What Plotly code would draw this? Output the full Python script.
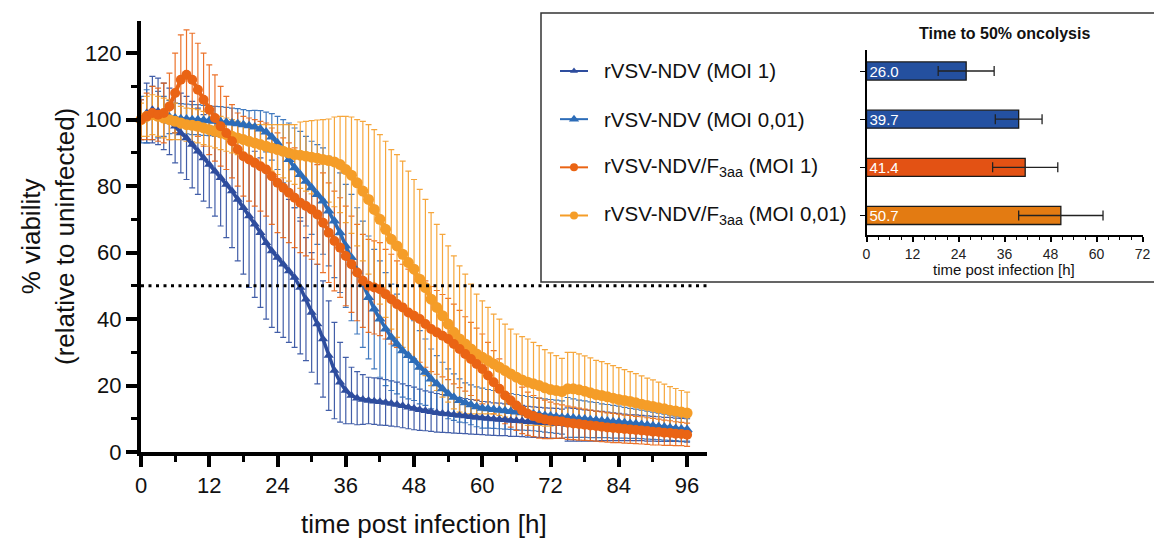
import plotly.graph_objects as go

# ---------------- data ----------------
HOURS = list(range(0, 97))

SERIES_NAMES = ["rVSV-NDV (MOI 1)", "rVSV-NDV (MOI 0,01)",
                "rVSV-NDV/F<sub>3aa</sub> (MOI 1)", "rVSV-NDV/F<sub>3aa</sub> (MOI 0,01)"]

A_MEAN = [100, 102, 103, 102.5, 101, 99.5, 98, 96, 94.5, 92.5,
          90.5, 88.5, 86.5, 84.5, 82.5, 80.5, 78.5, 76, 73.5, 71,
          68.5, 66, 63, 60.5, 58.5, 56.5, 54.5, 52.5, 49.5, 46,
          42, 38.5, 34, 29, 24.5, 21, 18.5, 17, 16.2, 15.8,
          15.5, 15.3, 15.1, 14.9, 14.6, 14.3, 13.9, 13.5, 13.1, 12.7,
          12.4, 12.1, 11.8, 11.6, 11.4, 11.2, 11.0, 10.8, 10.6, 10.4,
          10.2, 10.1, 9.9, 9.8, 9.7, 9.5, 9.4, 9.3, 9.1, 9.0,
          8.9, 8.8, 8.7, 8.6, 8.5, 8.3, 8.2, 8.1, 8.0, 7.9,
          7.8, 7.8, 7.7, 7.6, 7.5, 7.4, 7.3, 7.3, 7.2, 7.1,
          7.0, 6.9, 6.8, 6.8, 6.7, 6.6, 6.5]
A_SD = [6, 9, 10, 10, 10, 10, 11, 12, 12.5, 13,
        13, 13, 13, 13.5, 14.5, 16, 17, 18.5, 20, 21.5,
        22, 22.5, 23, 23, 22.5, 22, 21.5, 21, 20, 18.5,
        18, 18, 17.5, 16.5, 14.5, 12, 10, 8.5, 8, 7.5,
        7, 7, 7, 6.9, 6.8, 6.7, 6.6, 6.5, 6.4, 6.2,
        6, 5.9, 5.8, 5.7, 5.6, 5.5, 5.4, 5.3, 5.2, 5.1,
        5, 5, 4.9, 4.9, 4.8, 4.8, 4.7, 4.7, 4.6, 4.6,
        4.5, 4.5, 4.5, 4.5, 4.4, 5, 4.9, 4.8, 4.7, 4.6,
        4.5, 4.4, 4.3, 4.2, 4.1, 4, 3.9, 3.9, 3.8, 3.8,
        3.7, 3.7, 3.6, 3.6, 3.5, 3.5, 3.5]

B_MEAN = [100, 101, 102, 101.5, 101, 100.8, 100.5, 100.3, 100.2, 100,
          100, 99.8, 99.7, 99.5, 99.4, 99.2, 99, 98.8, 98.5, 98.2,
          97.8, 97.2, 96.3, 94.8, 93, 90.5, 88, 85.5, 83.5, 81.5,
          79.5, 77.5, 75.5, 72.5, 69.5, 66, 62, 58.5, 54.5, 50.5,
          46.5, 43, 40, 37, 34.5, 32.5, 30.5, 29, 27.5, 25.5,
          24, 22, 20.5, 19, 17.5, 16.5, 15.5, 14.8, 14.2, 13.6,
          13.2, 13, 12.8, 12.6, 12.4, 12.2, 12, 11.8, 11.6, 11.4,
          11.2, 11, 10.8, 10.6, 10.4, 10.4, 10.2, 10, 9.9, 9.7,
          9.6, 9.4, 9.3, 9.1, 9, 8.8, 8.6, 8.5, 8.3, 8.1,
          7.9, 7.7, 7.5, 7.3, 7.1, 6.9, 6.8]
B_SD = [7, 8, 8, 7, 6, 5, 4.5, 4.5, 4.5, 4.5,
        4.5, 4.5, 4.5, 4.5, 4.5, 4.5, 4.5, 4.5, 4.5, 4.5,
        5, 5.5, 6, 7, 8, 9.5, 11, 12, 13, 13.5,
        14, 15, 16, 16.5, 17, 18, 18.5, 19, 19, 19,
        18.5, 18, 17.5, 17, 16, 15, 14, 13, 12, 11,
        10, 9, 8.5, 8, 7.5, 7, 6.5, 6, 6, 6,
        6, 5.8, 5.7, 5.6, 5.5, 5.4, 5.3, 5.2, 5.1, 5,
        5, 5, 5, 5, 5, 6, 5.8, 5.6, 5.5, 5.4,
        5.3, 5.1, 5, 4.9, 4.8, 4.6, 4.5, 4.4, 4.3, 4.2,
        4.1, 4, 3.9, 3.8, 3.7, 3.6, 3.5]

C_MEAN = [100, 101, 102, 101.5, 102, 104, 108, 112, 113.5, 112,
          109, 106, 103, 100.5, 98, 96, 93.5, 91, 89, 88,
          87, 86, 85, 83, 81, 79.5, 78, 76.5, 75, 74,
          73, 71.5, 69, 66, 63.5, 61.5, 59, 56.5, 54, 51.5,
          50, 49.5, 49, 47.5, 46, 44.5, 43.5, 42, 41, 40,
          38.5, 37, 36, 35, 34, 32.5, 31, 29.5, 28, 26.5,
          25, 23, 21, 19, 17, 15.5, 14, 12.5, 11.5, 10.8,
          10.2, 9.8, 9.5, 9.3, 9.2, 8.8, 8.6, 8.4, 8.2, 8.0,
          7.8, 7.6, 7.4, 7.2, 7.1, 6.9, 6.8, 6.6, 6.5, 6.3,
          6.1, 6.0, 5.8, 5.7, 5.5, 5.4, 5.2]
C_SD = [6, 7, 8, 8, 9, 10, 12, 13.5, 13.5, 14,
        14, 14, 13.5, 13, 12, 11, 11, 11, 12, 12.5,
        13, 13.5, 14, 14.5, 15, 15, 15, 15, 15, 15,
        15, 15, 15, 15, 15, 15, 15, 14.5, 14.5, 14,
        14, 14, 14, 13.5, 13.5, 13, 13, 13, 13, 13,
        13, 12.8, 12.6, 12.4, 12.2, 12, 11.6, 11.2, 11, 10.8,
        10.5, 10, 9.5, 9, 8.5, 8, 7.5, 7, 6.5, 6.2,
        6, 5.8, 5.5, 5.2, 5, 5, 4.9, 4.8, 4.7, 4.6,
        4.5, 4.5, 4.4, 4.4, 4.3, 4.2, 4.2, 4.1, 4.1, 4,
        4, 3.9, 3.8, 3.7, 3.6, 3.5, 3.5]

D_MEAN = [100, 101, 101.5, 101, 100.5, 100, 99.5, 99, 98.5, 98.3,
          98, 97.5, 97, 96.5, 96, 95.5, 95, 94.5, 94, 93.5,
          93, 92.5, 92, 91.5, 91, 90.5, 90, 89.5, 89.3, 89,
          88.7, 88.4, 88, 87.7, 87.3, 86.5, 85, 83.3, 81, 78.5,
          76, 73, 70, 67, 64, 62, 59.5, 57, 55, 52,
          49.5, 46, 43.5, 41, 38.5, 36, 34, 32.5, 31, 29.5,
          28.5, 27.5, 26.5, 25.5, 24.5, 23.5, 22.5, 21.7, 21, 20.5,
          20, 19.3, 18.8, 18.5, 18.2, 19, 19, 18.7, 18.3, 17.8,
          17.3, 17, 16.6, 16.2, 15.8, 15.5, 15.2, 14.8, 14.4, 14,
          13.7, 13.3, 13, 12.6, 12.3, 12, 11.7]
D_SD = [5, 6, 6, 6, 6, 6, 5.5, 5, 5, 5,
        5, 5, 5, 5, 5, 5, 5, 5, 5, 5,
        5.5, 6, 6.5, 7, 7.5, 8, 8.5, 9, 10, 10.5,
        11, 11.5, 12, 12.5, 13.5, 14.5, 16, 17.5, 19, 21,
        22.5, 24, 25.5, 26.5, 27, 27.5, 28, 27.5, 27, 27,
        26.5, 26, 25, 24.5, 23.5, 23, 22, 21, 19.5, 18,
        17, 16, 15, 14.5, 14, 13.5, 13, 13, 13, 12.5,
        12, 11.5, 11, 10.5, 10, 11, 11, 10.8, 10.6, 10.5,
        10.3, 10.2, 10, 9.8, 9.6, 9.3, 9, 8.8, 8.5, 8.2,
        8, 7.7, 7.4, 7.1, 6.8, 6.5, 6.3]

# inset: time to 50% oncolysis
BAR_VALUES = [26.0, 39.7, 41.4, 50.7]
BAR_SD = [7.3, 6.1, 8.5, 11.0]

THRESHOLD = 50
X_TICKS = [0, 12, 24, 36, 48, 60, 72, 84, 96]
Y_TICKS = [0, 20, 40, 60, 80, 100, 120]
INSET_TICKS = [0, 12, 24, 36, 48, 60, 72]

for arr in (A_MEAN, A_SD, B_MEAN, B_SD, C_MEAN, C_SD, D_MEAN, D_SD):
    assert len(arr) == len(HOURS), len(arr)

# ---------------- styles ----------------
OFF = 8                      # page body margin of the html page
W, H = 1162 - OFF, 544 - OFF
FONT = "Arial, Liberation Sans, Helvetica, sans-serif"
LINE_COLORS = ["#2E4D9E", "#2C6CB8", "#EA6414", "#F59D28"]
ERR_COLORS = ["rgba(46,77,158,0.9)", "rgba(44,108,184,0.9)",
              "rgba(234,100,20,0.9)", "rgba(245,157,40,0.9)"]
BAR_COLORS = ["#24509F", "#2451A2", "#E35214", "#E37B12"]
SYMBOLS = ["triangle-up", "triangle-up", "circle", "circle"]
MSIZES = [9, 10, 10, 11]
LWIDTHS = [3.5, 3.5, 4, 5]
LEG_MSIZES = [7, 9, 8, 8]

means = [A_MEAN, B_MEAN, C_MEAN, D_MEAN]
sds = [A_SD, B_SD, C_SD, D_SD]


def px(x):
    return (x - OFF) / W


def py(y):
    return (H - (y - OFF)) / H


fig = go.Figure()

# error bars (drawn first)
for i in range(4):
    fig.add_trace(go.Scatter(
        x=HOURS, y=means[i], mode="markers",
        marker=dict(size=2, opacity=0),
        error_y=dict(type="data", array=sds[i], visible=True,
                     color=ERR_COLORS[i], thickness=1.2, width=3),
        cliponaxis=False, showlegend=False, hoverinfo="skip",
        xaxis="x", yaxis="y"))

# mean curves
for i in [0, 1, 3, 2]:
    fig.add_trace(go.Scatter(
        x=HOURS, y=means[i], mode="lines+markers",
        line=dict(color=LINE_COLORS[i], width=LWIDTHS[i]),
        marker=dict(symbol=SYMBOLS[i], size=MSIZES[i], color=LINE_COLORS[i],
                    line=dict(width=0)),
        cliponaxis=False, showlegend=False, name=SERIES_NAMES[i],
        xaxis="x", yaxis="y"))

# inset bars
fig.add_trace(go.Bar(
    x=BAR_VALUES, y=list(range(4)), orientation="h", width=0.375,
    marker=dict(color=BAR_COLORS, line=dict(color="#1a1a1a", width=1.3)),
    error_x=dict(type="data", array=BAR_SD, visible=True, color="#222222",
                 thickness=1.3, width=5),
    text=[f"{v:.1f}" for v in BAR_VALUES], textposition="inside",
    insidetextanchor="start", constraintext="none",
    textfont=dict(family=FONT, size=15, color="white"),
    showlegend=False, xaxis="x2", yaxis="y2"))

# legend symbols (on inset rows)
for i in range(4):
    fig.add_trace(go.Scatter(
        x=[0, 1], y=[i, i], mode="lines",
        line=dict(color=LINE_COLORS[i], width=2),
        showlegend=False, xaxis="x3", yaxis="y2", hoverinfo="skip"))
    fig.add_trace(go.Scatter(
        x=[0.5], y=[i], mode="markers",
        marker=dict(symbol=SYMBOLS[i], size=LEG_MSIZES[i], color=LINE_COLORS[i]),
        showlegend=False, xaxis="x3", yaxis="y2", hoverinfo="skip"))

annotations = []
for i in range(4):
    annotations.append(dict(
        x=px(602), xref="paper", y=i, yref="y2", xanchor="left", yanchor="middle",
        text=SERIES_NAMES[i], showarrow=False,
        font=dict(family=FONT, size=20.5, color="#111111")))

# axis titles
annotations += [
    dict(x=px(48), y=py(237), xref="paper", yref="paper", textangle=-90,
         text="% viability<br>(relative to uninfected)", showarrow=False,
         xanchor="center", yanchor="middle",
         font=dict(family=FONT, size=26, color="#111111")),
    dict(x=px(424), y=py(524), xref="paper", yref="paper",
         text="time post infection [h]", showarrow=False,
         xanchor="center", yanchor="middle",
         font=dict(family=FONT, size=26, color="#111111")),
    dict(x=px(1004), y=py(33), xref="paper", yref="paper",
         text="<b>Time to 50% oncolysis</b>", showarrow=False,
         xanchor="center", yanchor="middle",
         font=dict(family=FONT, size=16, color="#111111")),
    dict(x=px(1004), y=py(269), xref="paper", yref="paper",
         text="time post infection [h]", showarrow=False,
         xanchor="center", yanchor="middle",
         font=dict(family=FONT, size=15, color="#111111")),
]

shapes = [
    dict(type="rect", xref="paper", yref="paper",
         x0=px(541), x1=px(1160), y0=py(282), y1=py(13),
         line=dict(color="#333333", width=1.5), fillcolor="white", layer="below"),
    dict(type="line", xref="x", yref="y", x0=0, x1=99.5,
         y0=THRESHOLD, y1=THRESHOLD,
         line=dict(color="black", width=3, dash="3px,4.5px"), layer="above"),
]

fig.update_layout(
    width=W, height=H,
    margin=dict(l=0, r=0, t=0, b=0),
    paper_bgcolor="white", plot_bgcolor="rgba(0,0,0,0)",
    showlegend=False,
    font=dict(family=FONT, color="#111111"),
    annotations=annotations, shapes=shapes,
    xaxis=dict(domain=[px(141), px(707)], range=[0, 99.5], anchor="y",
               showline=True, linecolor="black", linewidth=4,
               ticks="outside", ticklen=11, tickwidth=3.5, tickcolor="black",
               tickmode="array", tickvals=X_TICKS,
               minor=dict(ticks="outside", ticklen=6, tickwidth=3,
                          tickcolor="black", dtick=6, tick0=0, showgrid=False),
               tickfont=dict(family=FONT, size=22, color="#111111"),
               showgrid=False, zeroline=False, automargin=False),
    yaxis=dict(domain=[py(452), py(21.3)], range=[0, 129.6], anchor="x",
               showline=True, linecolor="black", linewidth=4,
               ticks="outside", ticklen=11, tickwidth=3.5, tickcolor="black",
               tickmode="array", tickvals=Y_TICKS,
               minor=dict(ticks="outside", ticklen=6, tickwidth=3,
                          tickcolor="black", dtick=10, tick0=0, showgrid=False),
               tickfont=dict(family=FONT, size=22, color="#111111"),
               showgrid=False, zeroline=False, automargin=False),
    xaxis2=dict(domain=[px(866.5), px(1142.5)], range=[0, 72], anchor="y2",
                showline=True, linecolor="black", linewidth=2,
                ticks="outside", ticklen=5, tickwidth=1.5, tickcolor="black",
                tickmode="array", tickvals=INSET_TICKS,
                minor=dict(ticks="outside", ticklen=3, tickwidth=1.2,
                           tickcolor="black", dtick=3, tick0=0, showgrid=False),
                tickfont=dict(family=FONT, size=14, color="#222222"),
                showgrid=False, zeroline=False, automargin=False),
    yaxis2=dict(domain=[py(235), py(50)], range=[3.405, -0.436], anchor="x2",
                showline=True, linecolor="black", linewidth=1.5,
                ticks="outside", ticklen=5, tickwidth=1.2, tickcolor="black",
                tickmode="array", tickvals=[0, 1, 2, 3], showticklabels=False,
                showgrid=False, zeroline=False, automargin=False),
    xaxis3=dict(domain=[px(560), px(588)], range=[0, 1], anchor="y2",
                visible=False, showgrid=False, zeroline=False),
)

fig.write_html("out.html")
